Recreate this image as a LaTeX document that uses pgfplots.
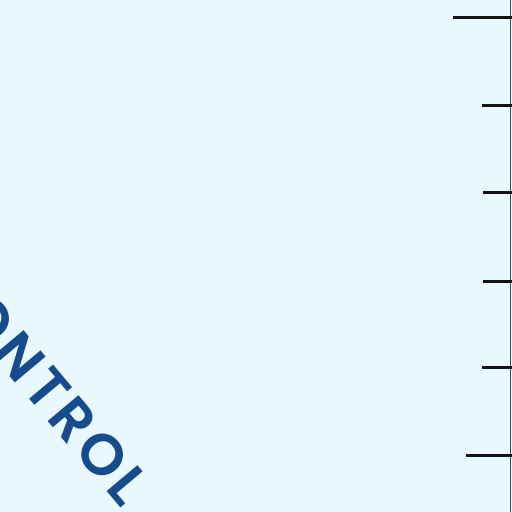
\documentclass[border=0pt]{standalone}
\usepackage{pgfplots}
\pgfplotsset{compat=1.18}
\usepackage{fontspec}
\setmainfont{Poppins}
\newfontfamily\labelfont[LetterSpace=8,BoldFont={Poppins SemiBold}]{Poppins}

\definecolor{panelbg}{RGB}{232,248,252}
\definecolor{labelblue}{RGB}{22,76,140}
\definecolor{tickblack}{RGB}{18,18,20}
\definecolor{spinegray}{RGB}{70,74,80}

\begin{document}
\begin{tikzpicture}[x=1bp,y=1bp]
\begin{axis}[
    scale only axis,
    width=512bp, height=512bp,
    xmin=0, xmax=512, ymin=0, ymax=512,
    y dir=reverse,
    hide axis,
    clip=true,
]
    \fill[panelbg] (rel axis cs:0,0) rectangle (rel axis cs:1,1);
    \coordinate (sw) at (rel axis cs:0,1);
    \coordinate (ne) at (rel axis cs:1,0);

    % right spine
    \addplot[spinegray, line width=1.6bp, no marks] coordinates {(510.5,0) (510.5,512)};

    % ticks (length varies in the crop)
    \addplot[tickblack, line width=3bp, no marks] coordinates {(453,18) (512,18)};
    \addplot[tickblack, line width=3bp, no marks] coordinates {(482,106) (512,106)};
    \addplot[tickblack, line width=3bp, no marks] coordinates {(483,192) (512,192)};
    \addplot[tickblack, line width=3bp, no marks] coordinates {(483,281) (512,281)};
    \addplot[tickblack, line width=3bp, no marks] coordinates {(482,367) (512,367)};
    \addplot[tickblack, line width=3bp, no marks] coordinates {(466,455) (512,455)};

    \node[rotate=-50, anchor=center, text=labelblue, inner sep=0pt,
          font=\labelfont\bfseries\fontsize{58}{58}\selectfont]
        at (axis cs:40,380) {CONTROL};
\end{axis}
\pgfresetboundingbox
\path[use as bounding box] (sw) rectangle (ne);
\end{tikzpicture}
\end{document}
